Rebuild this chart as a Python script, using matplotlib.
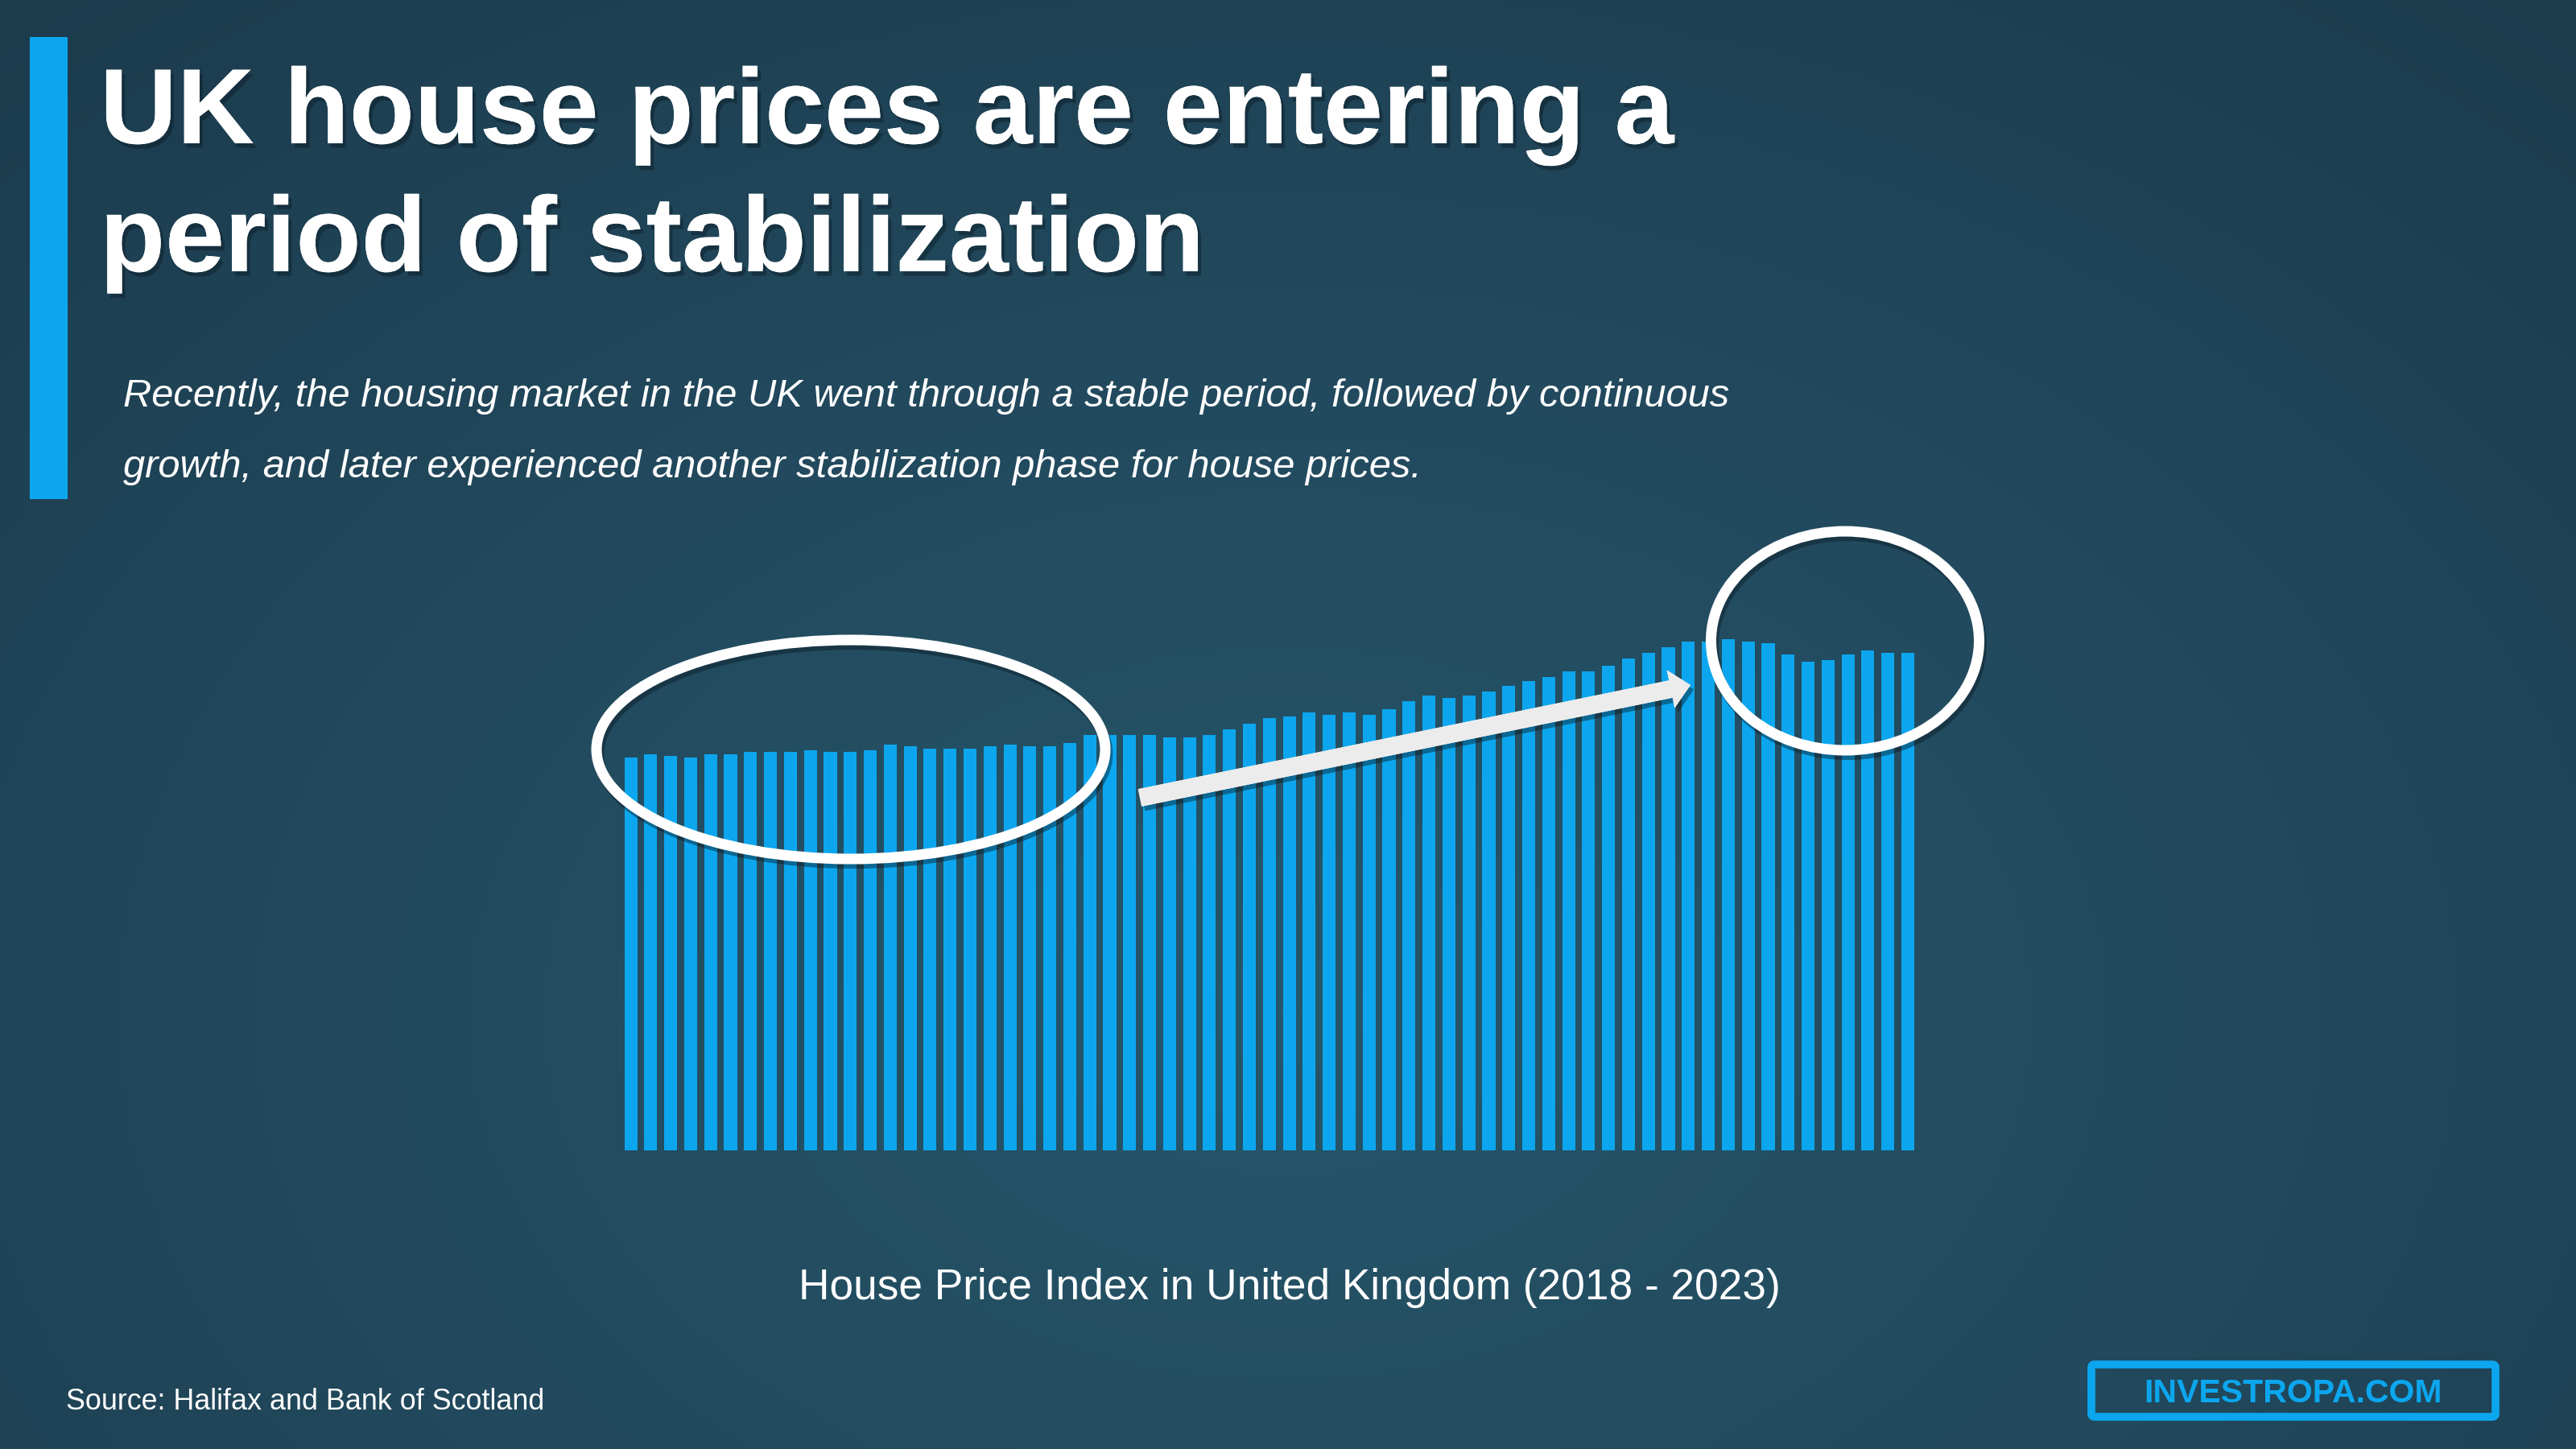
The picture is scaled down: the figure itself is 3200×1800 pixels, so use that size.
import numpy as np
import matplotlib
matplotlib.use("Agg")
import matplotlib.pyplot as plt
from matplotlib import patches
from matplotlib import patheffects as pe
from matplotlib.colors import LinearSegmentedColormap

# Halifax average house price, monthly Jan 2018 - May 2023 (GBP thousands)
months = np.arange(65)
prices = [224.8, 227.0, 225.9, 224.8, 227.0, 227.0, 228.1, 228.1, 228.1, 229.1,
          228.1, 228.1, 229.1, 232.2, 231.3, 230.2, 230.2, 230.2, 231.3, 232.2,
          231.3, 231.3, 233.4, 237.7, 237.7, 237.7, 237.7, 236.6, 236.6, 237.7,
          241.0, 244.2, 247.4, 248.5, 250.6, 249.5, 250.6, 249.5, 252.8, 257.1,
          260.3, 259.2, 260.3, 262.6, 265.9, 268.9, 271.1, 274.3, 274.3, 277.5,
          281.8, 285.0, 288.3, 291.5, 291.5, 292.6, 291.5, 290.3, 284.0, 279.7,
          280.7, 284.0, 286.1, 285.0, 285.0]

title_lines = ["UK house prices are entering a", "period of stabilization"]
subtitle_lines = ["Recently, the housing market in the UK went through a stable period, followed by continuous",
                  "growth, and later experienced another stabilization phase for house prices."]
caption = "House Price Index in United Kingdom (2018 - 2023)"
source = "Source: Halifax and Bank of Scotland"
brand = "INVESTROPA.COM"

BLUE = "#0ca6ee"
FONT = "Liberation Sans"

W, H = 3200, 1800
fig = plt.figure(figsize=(32, 18), dpi=100)

# --- background: soft radial gradient, lightest near the middle ---
bg = fig.add_axes([0, 0, 1, 1], zorder=0)
yy, xx = np.mgrid[0:1:300j, 0:1:534j]
r = np.sqrt(((xx - 0.5) / 0.8) ** 2 + ((yy - 0.3) / 1.0) ** 2)
cmap = LinearSegmentedColormap.from_list("bg", ["#26566a", "#22495d", "#1c3b4d"])
bg.imshow(np.clip(r, 0, 1), cmap=cmap, aspect="auto", extent=[0, 1, 0, 1], origin="lower")
bg.axis("off")

# --- bar chart ---
ax = fig.add_axes([771.2 / W, (H - 1429) / H, (2382.4 - 771.2) / W, 650.8 / H], zorder=1)
ax.bar(months, prices, width=0.65, color=BLUE)
ax.set_xlim(-0.5, 64.5)
ax.set_ylim(0, 300)
ax.axis("off")
ax.patch.set_alpha(0)

# --- overlay in pixel coordinates for text and annotations ---
ov = fig.add_axes([0, 0, 1, 1], zorder=2)
ov.set_xlim(0, W)
ov.set_ylim(H, 0)
ov.axis("off")
ov.patch.set_alpha(0)

fill_shadow = [pe.withSimplePatchShadow(offset=(3, -4), shadow_rgbFace="#0b1c26", alpha=0.45), pe.Normal()]
line_shadow = [pe.SimpleLineShadow(offset=(2, -4), shadow_color="#0b1c26", alpha=0.45), pe.Normal()]

# left accent bar
ov.add_patch(patches.Rectangle((37, 46), 47, 574, color=BLUE, lw=0))

for i, line in enumerate(title_lines):
    ov.text(124, 178 + i * 159, line, fontsize=95.6, fontweight="bold", color="white",
            family=FONT, va="baseline", ha="left", path_effects=fill_shadow)

for i, line in enumerate(subtitle_lines):
    ov.text(153, 505 + i * 88, line, fontsize=35.2, style="italic", color="white",
            family=FONT, va="baseline", ha="left")

# ellipses around the two flat periods
for cx, cy, w, h in [(1057, 931, 632, 272), (2292, 796, 333, 272)]:
    ov.add_patch(patches.Ellipse((cx, cy), w, h, fill=False, ec="white", lw=9.4,
                                 path_effects=line_shadow))

# growth arrow
ov.add_patch(patches.FancyArrow(1416, 991, 2100 - 1416, 851 - 991, width=22, head_width=48,
                                head_length=25, length_includes_head=True, color="#ececec",
                                lw=0, path_effects=fill_shadow))

ov.text(1602, 1614, caption, fontsize=38.3, color="white", family=FONT,
        ha="center", va="baseline")
ov.text(82, 1751, source, fontsize=25.8, color="white", family=FONT,
        ha="left", va="baseline")

# brand box
ov.add_patch(patches.FancyBboxPatch((2598, 1695), 502, 65, boxstyle="round,pad=0,rounding_size=4",
                                    fill=False, ec=BLUE, lw=7))
ov.text(2849, 1742, brand, fontsize=29.5, fontweight="bold", color=BLUE, family=FONT,
        ha="center", va="baseline")

fig.savefig("out.png", dpi=100)
